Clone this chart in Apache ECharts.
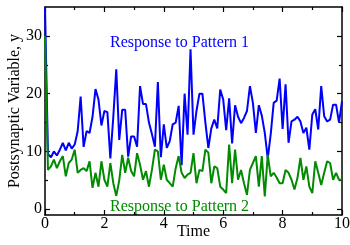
<!DOCTYPE html>
<html>
<head>
<meta charset="utf-8">
<script src="https://cdn.jsdelivr.net/npm/echarts@6/dist/echarts.min.js"></script>
<style>
  html, body { margin: 0; padding: 0; background: #fff; }
  #chart { width: 350px; height: 245px; }
</style>
</head>
<body>
<div id="chart"></div>
<script>
// sampled every 0.1 time units, 0..10
var dt = 0.1;
var pattern1 = [35, 9.5, 9, 10, 9.3, 10.3, 11.5, 10.2, 11.5, 10.5,
  11.2, 13.5, 19.5, 10.8, 13.5, 13.2, 16, 20.8, 19, 14.5,
  17, 16.8, 8.8, 16, 24.2, 12, 17.2, 17.2, 9.1, 12.6,
  12.6, 10.8, 21.3, 18.2, 18.2, 15, 13, 10.8, 22, 9,
  14.7, 10.6, 11.8, 14.7, 15, 17.9, 7.6, 20, 12.9, 27.7,
  12.9, 17, 20, 20, 15, 10.6, 14, 15.5, 14, 20.7,
  19, 13.7, 19.2, 11.4, 18, 16, 14.9, 15.8, 17, 21.3,
  18.4, 13.2, 18, 16.2, 13.2, 8.8, 13, 18.4, 18.8, 22.6,
  13.9, 21.6, 11.5, 15.2, 15.5, 16, 15.2, 13.2, 14.1, 10.3,
  16.4, 17.3, 13.8, 21.3, 16.1, 15.2, 15.5, 18.1, 18.1, 15,
  18.7];
var pattern2 = [30, 6.8, 7.4, 8.6, 7.1, 8.3, 9.2, 5.7, 8, 8.6,
  10.3, 6.3, 6.8, 7.1, 6.6, 8.3, 3.7, 6.3, 3.9, 8.3,
  5.1, 3.9, 8, 4.5, 2.3, 5, 9.4, 6.3, 8.9, 6.6,
  5.7, 9.7, 7.7, 5.1, 6.6, 3.9, 6.8, 10.3, 10, 5.1,
  7.7, 5.1, 4.5, 3.9, 7.1, 9.2, 6.3, 5.4, 6, 6.3,
  9.7, 4.5, 6.8, 6.6, 10.3, 9.8, 4.5, 7.4, 7.1, 3.9,
  3.4, 2.8, 11.2, 4.5, 10.3, 5.1, 6.8, 4.5, 2.5, 6.8,
  8, 9.2, 3.9, 9.2, 2.2, 9.4, 5.7, 6.3, 5.5, 4.5,
  4.5, 6.8, 6.3, 5.1, 3.4, 5.4, 8.9, 5.1, 7.4, 3.9,
  2.8, 8.3, 6.3, 4.2, 6.3, 8.3, 8, 5.1, 6.3, 5.1,
  5.1];
var yMajor = [0, 10, 20, 30];
var yMinor = [5, 15, 25];

var time = pattern1.map(function (v, i) { return +(i * dt).toFixed(1); });
function pairs(vals) {
  return vals.map(function (v, i) { return [time[i], v]; });
}

var font = 'Liberation Serif';
var black = '#000';

function xAx(pos, labels) {
  return {
    type: 'value', position: pos, min: 0, max: 10, interval: 2,
    axisLine: { show: true, onZero: false, lineStyle: { color: black, width: 1.5 } },
    axisTick: { show: true, inside: true, length: 5, lineStyle: { color: black, width: 1.2 } },
    minorTick: { show: true, splitNumber: 2, length: 3, lineStyle: { color: black, width: 1.2 } },
    axisLabel: { show: labels, color: black, fontFamily: font, fontSize: 16, margin: 1 },
    splitLine: { show: false },
    name: labels ? 'Time' : '',
    nameLocation: 'middle', nameGap: 9, nameMoveOverlap: false,
    nameTextStyle: { color: black, fontFamily: font, fontSize: 16 }
  };
}
function yAx(pos, ticks, len, line, labels) {
  return {
    type: 'value', position: pos, min: -1, max: 35,
    axisLine: { show: line, onZero: false, lineStyle: { color: black, width: 1.5 } },
    axisTick: { show: true, inside: true, length: len, customValues: ticks, lineStyle: { color: black, width: 1.2 } },
    axisLabel: { show: labels, customValues: ticks, color: black, fontFamily: font, fontSize: 16, margin: 3 },
    splitLine: { show: false },
    name: labels ? 'Postsynaptic Variable, y' : '',
    nameLocation: 'middle', nameGap: 22, nameRotate: 90, nameMoveOverlap: false,
    nameTextStyle: { color: black, fontFamily: font, fontSize: 16 }
  };
}

var myChart = echarts.init(document.getElementById('chart'));
var option = {
  animation: false,
  grid: { left: 45, right: 8, top: 7, bottom: 30, outerBoundsMode: 'none', containLabel: false },
  xAxis: [xAx('bottom', true), xAx('top', false)],
  yAxis: [
    yAx('left', yMajor, 5, true, true),
    yAx('left', yMinor, 3, false, false),
    yAx('right', yMajor, 5, true, false),
    yAx('right', yMinor, 3, false, false)
  ],
  graphic: [
    { type: 'text', left: 110, top: 35,
      style: { text: 'Response to Pattern 1', fill: '#0000ff', font: '16px "Liberation Serif"' } },
    { type: 'text', left: 110, top: 199,
      style: { text: 'Response to Pattern 2', fill: '#008b00', font: '16px "Liberation Serif"' } }
  ],
  series: [
    { name: 'Pattern 1', type: 'line', data: pairs(pattern1), showSymbol: false,
      lineStyle: { color: '#0000ff', width: 2 }, itemStyle: { color: '#0000ff' } },
    { name: 'Pattern 2', type: 'line', data: pairs(pattern2), showSymbol: false,
      lineStyle: { color: '#008b00', width: 2 }, itemStyle: { color: '#008b00' } }
  ]
};
myChart.setOption(option);
</script>
</body>
</html>
